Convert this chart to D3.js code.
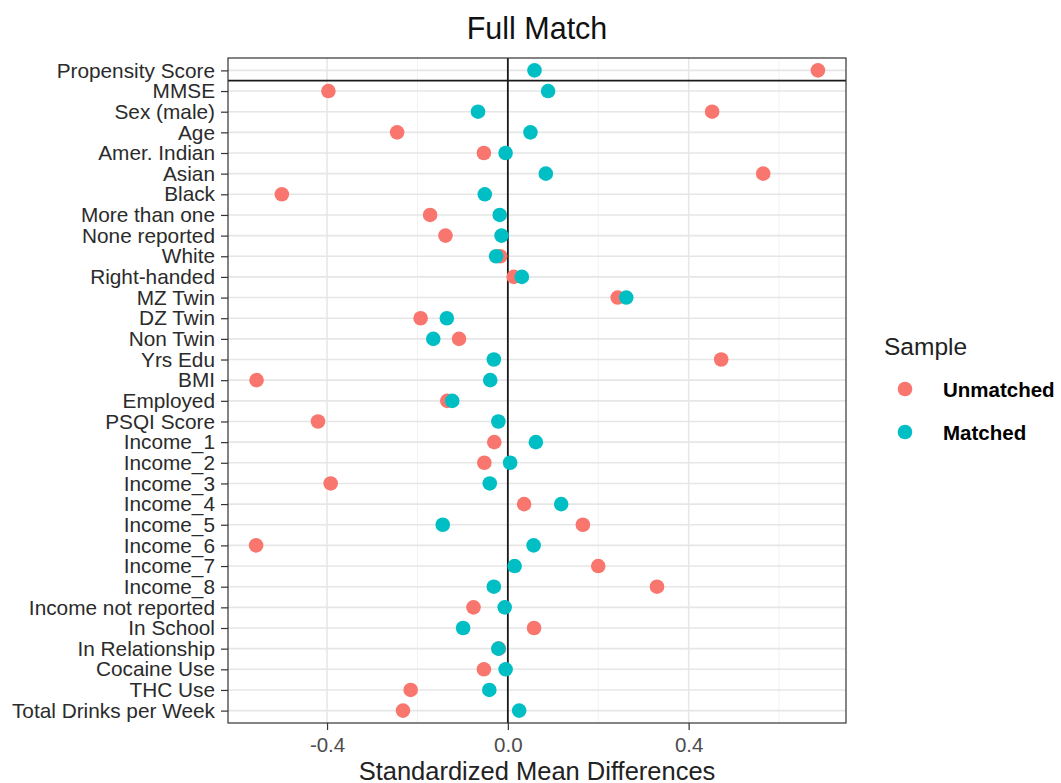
<!DOCTYPE html>
<html>
<head>
<meta charset="utf-8">
<script src="https://cdn.jsdelivr.net/npm/d3@7"></script>
<style>
  body { margin: 0; background: #fff; }
  text { font-family: "Liberation Sans", Arial, sans-serif; }
</style>
</head>
<body>
<svg id="chart" width="1061" height="783"></svg>
<script>
let covariates = [
  "Propensity Score", "MMSE", "Sex (male)", "Age", "Amer. Indian", "Asian", "Black",
  "More than one", "None reported", "White", "Right-handed", "MZ Twin", "DZ Twin",
  "Non Twin", "Yrs Edu", "BMI", "Employed", "PSQI Score", "Income_1", "Income_2",
  "Income_3", "Income_4", "Income_5", "Income_6", "Income_7", "Income_8",
  "Income not reported", "In School", "In Relationship", "Cocaine Use", "THC Use",
  "Total Drinks per Week"
];

let unmatched = [
  0.686, -0.397, 0.452, -0.245, -0.053, 0.565, -0.500,
  -0.172, -0.138, -0.017, 0.013, 0.243, -0.193,
  -0.108, 0.472, -0.556, -0.134, -0.420, -0.030, -0.052,
  -0.392, 0.036, 0.166, -0.557, 0.200, 0.330,
  -0.076, 0.058, -0.020, -0.053, -0.215,
  -0.232
];

let matched = [
  0.059, 0.089, -0.066, 0.050, -0.005, 0.084, -0.051,
  -0.018, -0.014, -0.026, 0.031, 0.262, -0.135,
  -0.165, -0.031, -0.039, -0.123, -0.021, 0.062, 0.005,
  -0.040, 0.118, -0.144, 0.057, 0.015, -0.031,
  -0.007, -0.099, -0.021, -0.005, -0.041,
  0.025
];

let xTicks = [-0.4, 0.0, 0.4];
let xMinor = [-0.2, 0.2, 0.6];
let samples = ["Unmatched", "Matched"];
let colors = ["#F8766D", "#00BFC4"];

let svg = d3.select("#chart");

let panelLeft = 228, panelRight = 846, panelTop = 58, panelBottom = 723;

// ggplot style 5% expansion
let all = unmatched.concat(matched);
let lo = d3.min(all), hi = d3.max(all);
let pad = (hi - lo) * 0.05;

let xScale = d3.scaleLinear()
  .domain([lo - pad, hi + pad])
  .range([panelLeft, panelRight]);

let yScale = d3.scalePoint()
  .domain(covariates)
  .range([panelTop, panelBottom])
  .padding(0.6);

let step = yScale.step();

// grid
svg.append("g")
  .selectAll("line")
  .data(xMinor)
  .enter()
  .append("line")
  .attr("x1", d => xScale(d)).attr("x2", d => xScale(d))
  .attr("y1", panelTop).attr("y2", panelBottom)
  .attr("stroke", "#F2F2F2").attr("stroke-width", 1);

svg.append("g")
  .selectAll("line")
  .data(xTicks)
  .enter()
  .append("line")
  .attr("x1", d => xScale(d)).attr("x2", d => xScale(d))
  .attr("y1", panelTop).attr("y2", panelBottom)
  .attr("stroke", "#E6E6E6").attr("stroke-width", 1.5);

svg.append("g")
  .selectAll("line")
  .data(covariates)
  .enter()
  .append("line")
  .attr("x1", panelLeft).attr("x2", panelRight)
  .attr("y1", d => yScale(d)).attr("y2", d => yScale(d))
  .attr("stroke", "#E6E6E6").attr("stroke-width", 1.6);

// reference lines
svg.append("line")
  .attr("x1", xScale(0)).attr("x2", xScale(0))
  .attr("y1", panelTop).attr("y2", panelBottom)
  .attr("stroke", "#1a1a1a").attr("stroke-width", 1.8);

let hy = yScale(covariates[0]) + step / 2;
svg.append("line")
  .attr("x1", panelLeft).attr("x2", panelRight)
  .attr("y1", hy).attr("y2", hy)
  .attr("stroke", "#1a1a1a").attr("stroke-width", 1.8);

// points
let series = [unmatched, matched];
series.forEach((vals, i) => {
  svg.append("g")
    .selectAll("circle")
    .data(vals)
    .enter()
    .append("circle")
    .attr("cx", d => xScale(d))
    .attr("cy", (d, j) => yScale(covariates[j]))
    .attr("r", 7.3)
    .attr("fill", colors[i]);
});

// panel border
svg.append("rect")
  .attr("x", panelLeft).attr("y", panelTop)
  .attr("width", panelRight - panelLeft).attr("height", panelBottom - panelTop)
  .attr("fill", "none").attr("stroke", "#333").attr("stroke-width", 1.2);

// axes
svg.append("g")
  .attr("transform", "translate(0," + panelBottom + ")")
  .call(d3.axisBottom(xScale).tickValues(xTicks)
    .tickFormat(d => d3.format(".1f")(d).replace("\u2212", "-"))
    .tickSize(7).tickPadding(7))
  .call(g => g.select(".domain").remove())
  .call(g => g.selectAll("line").attr("stroke", "#333").attr("stroke-width", 1.2))
  .call(g => g.selectAll("text").attr("font-size", 20.5).attr("fill", "#4D4D4D")
    .attr("font-family", "Liberation Sans, Arial, sans-serif"));

svg.append("g")
  .attr("transform", "translate(" + panelLeft + ",0)")
  .call(d3.axisLeft(yScale).tickSize(7).tickPadding(6))
  .call(g => g.select(".domain").remove())
  .call(g => g.selectAll("line").attr("stroke", "#333").attr("stroke-width", 1.2))
  .call(g => g.selectAll("text").attr("font-size", 20.8).attr("fill", "#2b2b2b")
    .attr("font-family", "Liberation Sans, Arial, sans-serif"));

// titles
svg.append("text")
  .attr("x", (panelLeft + panelRight) / 2).attr("y", 39)
  .attr("text-anchor", "middle")
  .attr("font-size", 30.5)
  .attr("fill", "#111")
  .text("Full Match");

svg.append("text")
  .attr("x", (panelLeft + panelRight) / 2).attr("y", 780)
  .attr("text-anchor", "middle")
  .attr("font-size", 25.5)
  .attr("fill", "#222")
  .text("Standardized Mean Differences");

// legend
let legend = svg.append("g");
legend.append("text")
  .attr("x", 884).attr("y", 355)
  .attr("font-size", 24.5)
  .attr("fill", "#222")
  .text("Sample");

let legendY = d3.scalePoint().domain(samples).range([389, 432]);
legend.selectAll("circle")
  .data(samples)
  .enter()
  .append("circle")
  .attr("cx", 905)
  .attr("cy", d => legendY(d))
  .attr("r", 7.3)
  .attr("fill", (d, i) => colors[i]);

legend.selectAll(".lab")
  .data(samples)
  .enter()
  .append("text")
  .attr("class", "lab")
  .attr("x", 943)
  .attr("y", d => legendY(d) + 7.5)
  .attr("font-size", 20.5)
  .attr("font-weight", "bold")
  .attr("fill", "#000")
  .text(d => d);
</script>
</body>
</html>
